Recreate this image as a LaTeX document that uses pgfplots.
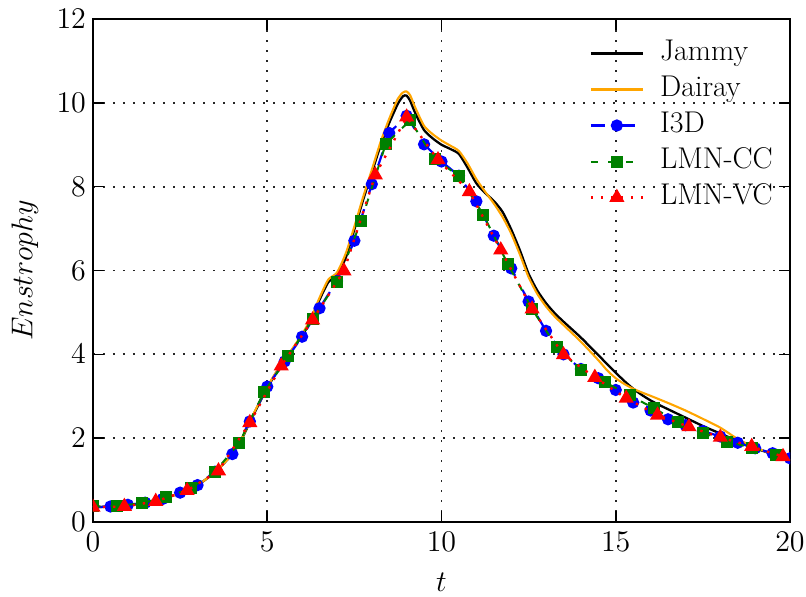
\RequirePackage{fix-cm}
\documentclass[border=0pt]{standalone}
\usepackage{pgfplots}
\pgfplotsset{compat=1.18}
\definecolor{mplorange}{rgb}{1,0.647,0}
\definecolor{mplgreen}{rgb}{0,0.5,0}
\begin{document}
\begin{tikzpicture}
\begin{axis}[
  name=ax,
  width=348.5pt, height=251.5pt, scale only axis,
  xmin=0, xmax=20, ymin=0, ymax=12,
  xtick={0,5,10,15,20}, ytick={0,2,4,6,8,10,12},
  tick align=inside,
  major tick length=5.5pt,
  every tick/.style={black, line width=0.8pt},
  axis line style={line width=1.3pt},
  grid=major,
  grid style={black!85, line width=0.9pt, dash pattern=on 0.9pt off 4.1pt},
  font=\fontsize{15}{18}\selectfont,
  xlabel={$t$}, ylabel={$Enstrophy$},
  every axis x label/.style={at={(axis description cs:0.5,-0.119)}, anchor=center},
  every axis y label/.style={at={(axis description cs:-0.0976,0.5)}, rotate=90, anchor=center},
  xticklabel style={yshift=-1.5pt},
  clip marker paths=true,
  legend cell align=left,
  legend image code/.code={\draw[mark repeat=2,mark phase=2,#1] plot coordinates {(0pt,0pt) (13pt,0pt) (26pt,0pt)};},
  legend style={draw=none, fill=none, at={(rel axis cs:0.712,0.962)}, anchor=north west,
    inner sep=0pt, row sep=3pt, column sep=8pt,
    nodes={inner sep=0pt, text height=11pt, text depth=4pt}},
]
\addplot[black, line width=1.15pt, smooth, tension=0.4] coordinates {
(0,0.35) (0.5,0.37) (1,0.40) (1.5,0.45) (2,0.55) (2.5,0.69) (3,0.88) (3.5,1.19) (4,1.62) (4.25,1.95)
(4.5,2.38) (4.75,2.8) (5,3.2) (5.25,3.55) (5.5,3.85) (5.75,4.15) (6,4.45) (6.25,4.8) (6.5,5.3) (6.75,5.72)
(7,5.9) (7.25,6.3) (7.5,6.98) (7.75,7.68) (8,8.33) (8.25,8.98) (8.5,9.52) (8.75,9.98) (8.9,10.16) (9,10.17)
(9.1,10.05) (9.25,9.75) (9.5,9.35) (9.75,9.15) (10,9.0) (10.25,8.9) (10.5,8.78) (10.75,8.45) (11,8.08)
(11.25,7.85) (11.5,7.66) (11.75,7.4) (12,6.98) (12.25,6.48) (12.5,5.92) (12.75,5.52) (13,5.22) (13.25,4.98)
(13.5,4.78) (14,4.4) (14.5,3.98) (14.75,3.77) (15,3.56) (15.25,3.36) (15.5,3.18) (15.75,3.03) (16,2.9)
(16.25,2.79) (16.5,2.69) (17,2.49) (17.5,2.29) (18,2.11) (18.5,1.93) (19,1.76) (19.5,1.62) (20,1.48)
};
\addlegendentry{Jammy}
\addplot[mplorange, line width=1.05pt, smooth, tension=0.4] coordinates {
(0,0.35) (0.5,0.37) (1,0.40) (1.5,0.45) (2,0.55) (2.5,0.69) (3,0.88) (3.5,1.19) (4,1.62) (4.25,1.96)
(4.5,2.4) (4.75,2.82) (5,3.22) (5.25,3.57) (5.5,3.87) (5.75,4.17) (6,4.48) (6.25,4.85) (6.5,5.35) (6.75,5.78)
(7,5.95) (7.25,6.4) (7.5,7.05) (7.75,7.75) (8,8.4) (8.25,9.06) (8.5,9.62) (8.75,10.1) (8.9,10.25) (9,10.27)
(9.1,10.18) (9.25,9.88) (9.5,9.45) (9.75,9.25) (10,9.1) (10.25,8.98) (10.5,8.85) (10.75,8.55) (11,8.18)
(11.25,7.88) (11.5,7.6) (11.75,7.28) (12,6.88) (12.25,6.38) (12.5,5.84) (12.75,5.44) (13,5.14) (13.25,4.9)
(13.5,4.7) (14,4.3) (14.5,3.86) (14.75,3.62) (15,3.43) (15.25,3.29) (15.5,3.18) (15.75,3.09) (16,3.01)
(16.5,2.84) (17,2.66) (17.5,2.46) (18,2.25) (18.5,1.98) (19,1.78) (19.5,1.62) (20,1.48)
};
\addlegendentry{Dairay}
\addplot[blue, line width=1.1pt, dash pattern=on 7pt off 8pt, mark=*, mark size=2.5pt, mark options={solid}, mark phase=2] coordinates {
(0,0.35) (0.5,0.37) (1,0.41) (1.5,0.46) (2,0.55) (2.5,0.70) (3,0.88) (3.5,1.20) (4,1.62) (4.5,2.40)
(5,3.23) (5.5,3.83) (6,4.42) (6.5,5.10) (7,5.75) (7.5,6.71) (8,8.06) (8.5,9.28) (9,9.69) (9.5,9.01)
(10,8.60) (10.5,8.26) (11,7.65) (11.5,6.83) (12,6.05) (12.5,5.26) (13,4.56) (13.5,4.00) (14,3.65)
(14.5,3.43) (15,3.15) (15.5,2.85) (16,2.66) (16.5,2.45) (17,2.31) (17.5,2.17) (18,2.04) (18.5,1.89)
(19,1.76) (19.5,1.64) (20,1.52)
};
\addlegendentry{I3D}
\addplot[mplgreen, line width=1pt, dash pattern=on 3.75pt off 5pt, mark=square*, mark size=2.5pt, mark options={solid}] coordinates {
(0,0.37) (0.7,0.38) (1.4,0.45) (2.1,0.59) (2.8,0.80) (3.5,1.20) (4.2,1.89) (4.9,3.09) (5.6,3.95) (6.3,4.84)
(7,5.72) (7.7,7.19) (8.4,9.02) (9.1,9.58) (9.8,8.66) (10.5,8.26) (11.2,7.33) (11.9,6.16) (12.6,5.08)
(13.3,4.18) (14,3.63) (14.7,3.33) (15.4,3.02) (16.1,2.71) (16.8,2.38) (17.5,2.13) (18.2,1.92) (18.9,1.77)
(19.6,1.60)
};
\addlegendentry{LMN-CC}
\addplot[red, line width=1.2pt, dash pattern=on 1.2pt off 3.8pt, mark=triangle*, mark size=3.2pt, mark options={solid}] coordinates {
(0,0.35) (0.9,0.37) (1.8,0.49) (2.7,0.75) (3.6,1.22) (4.5,2.37) (5.4,3.72) (6.3,4.82) (7.2,5.99) (8.1,8.28)
(9,9.66) (9.9,8.64) (10.8,7.88) (11.7,6.49) (12.6,5.08) (13.5,3.99) (14.4,3.45) (15.3,2.95) (16.2,2.55)
(17.1,2.27) (18,2.02) (18.9,1.80) (19.8,1.56)
};
\addlegendentry{LMN-VC}
\end{axis}
\pgfresetboundingbox
\path[use as bounding box] ([xshift=-46.5pt,yshift=-37.5pt]ax.south west) rectangle ([xshift=8pt,yshift=9.5pt]ax.north east);
\end{tikzpicture}
\end{document}
